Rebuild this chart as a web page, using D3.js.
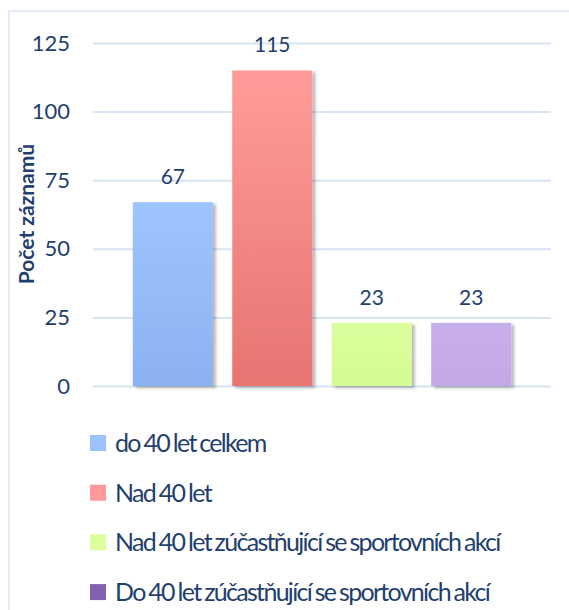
<!DOCTYPE html>
<html>
<head>
<meta charset="utf-8">
<script src="https://cdn.jsdelivr.net/npm/d3@7"></script>
<style>
  body { margin: 0; background: #fff; }
  svg { display: block; font-family: Lato, "Open Sans", sans-serif; }
</style>
</head>
<body>
<svg width="569" height="610"></svg>
<script>
// data
const categories = [
  "do 40 let celkem",
  "Nad 40 let",
  "Nad 40 let zúčastňující se sportovních akcí",
  "Do 40 let zúčastňující se sportovních akcí"
];
const values = [67, 115, 23, 23];
const yTicks = [0, 25, 50, 75, 100, 125];
const yTitle = "Počet záznamů";

// colours: bar gradient top / bottom and legend swatch
const barTop = ["#9fc5ff", "#ff9c99", "#dcff9d", "#c8afec"];
const barBottom = ["#8bb1f1", "#e87472", "#d5fb93", "#c2a8e5"];
const swatch = ["#9dc3fe", "#ff9a98", "#dbff9c", "#8062b0"];
const textColor = "#1f3f6e";

const svg = d3.select("svg");
const defs = svg.append("defs");

// soft shadow used on the bars
const shadow = defs.append("filter")
  .attr("id", "shadow")
  .attr("x", "-10%").attr("y", "-10%")
  .attr("width", "130%").attr("height", "130%");
shadow.append("feDropShadow")
  .attr("dx", 3).attr("dy", 2)
  .attr("stdDeviation", 1.6)
  .attr("flood-color", "#000")
  .attr("flood-opacity", 0.28);

categories.forEach(function (c, i) {
  const g = defs.append("linearGradient")
    .attr("id", "grad" + i)
    .attr("x1", 0).attr("y1", 0).attr("x2", 0).attr("y2", 1);
  g.append("stop").attr("offset", "0%").attr("stop-color", barTop[i]);
  g.append("stop").attr("offset", "100%").attr("stop-color", barBottom[i]);
});

// outer frame (runs off the right and bottom edge)
svg.append("rect")
  .attr("x", 9).attr("y", 11)
  .attr("width", 620).attr("height", 660)
  .attr("fill", "none")
  .attr("stroke", "#dae5f3")
  .attr("stroke-width", 1.5);

// scales
const x = d3.scaleBand()
  .domain(categories)
  .range([93, 551])
  .paddingInner(0.195)
  .paddingOuter(0.4);

const y = d3.scaleLinear()
  .domain([0, 125])
  .range([386, 43]);

// gridlines + tick labels
const yAxis = svg.append("g")
  .attr("transform", "translate(93,0)")
  .call(d3.axisLeft(y).tickValues(yTicks).tickSize(-458).tickPadding(23));
yAxis.select(".domain").remove();
yAxis.selectAll(".tick line")
  .attr("stroke", "#d6e3f3")
  .attr("stroke-width", 2);
yAxis.selectAll(".tick text")
  .attr("fill", textColor)
  .attr("font-size", 22)
  .attr("font-family", "Lato, sans-serif");

// axis title
svg.append("text")
  .attr("transform", "translate(34,214) rotate(-90)")
  .attr("text-anchor", "middle")
  .attr("font-size", 21)
  .attr("font-weight", "bold")
  .attr("fill", textColor)
  .text(yTitle);

// bars
svg.selectAll("rect.bar")
  .data(values)
  .join("rect")
  .attr("class", "bar")
  .attr("x", function (d, i) { return x(categories[i]); })
  .attr("y", function (d) { return y(d); })
  .attr("width", x.bandwidth())
  .attr("height", function (d) { return y(0) - y(d); })
  .attr("fill", function (d, i) { return "url(#grad" + i + ")"; })
  .attr("filter", "url(#shadow)");

// value labels
svg.selectAll("text.value")
  .data(values)
  .join("text")
  .attr("class", "value")
  .attr("x", function (d, i) { return x(categories[i]) + x.bandwidth() / 2; })
  .attr("y", function (d) { return y(d) - 18; })
  .attr("text-anchor", "middle")
  .attr("font-size", 21)
  .attr("fill", textColor)
  .text(function (d) { return d; });

// legend
const legend = svg.selectAll("g.legend")
  .data(categories)
  .join("g")
  .attr("class", "legend")
  .attr("transform", function (d, i) { return "translate(90," + (443 + i * 49.7) + ")"; });

legend.append("rect")
  .attr("x", 0).attr("y", -8)
  .attr("width", 16).attr("height", 16)
  .attr("fill", function (d, i) { return swatch[i]; });

legend.append("text")
  .attr("x", 25)
  .attr("y", 9)
  .attr("font-size", 25)
  .attr("letter-spacing", -1.7)
  .attr("word-spacing", -1)
  .attr("fill", textColor)
  .text(function (d) { return d; });
</script>
</body>
</html>
